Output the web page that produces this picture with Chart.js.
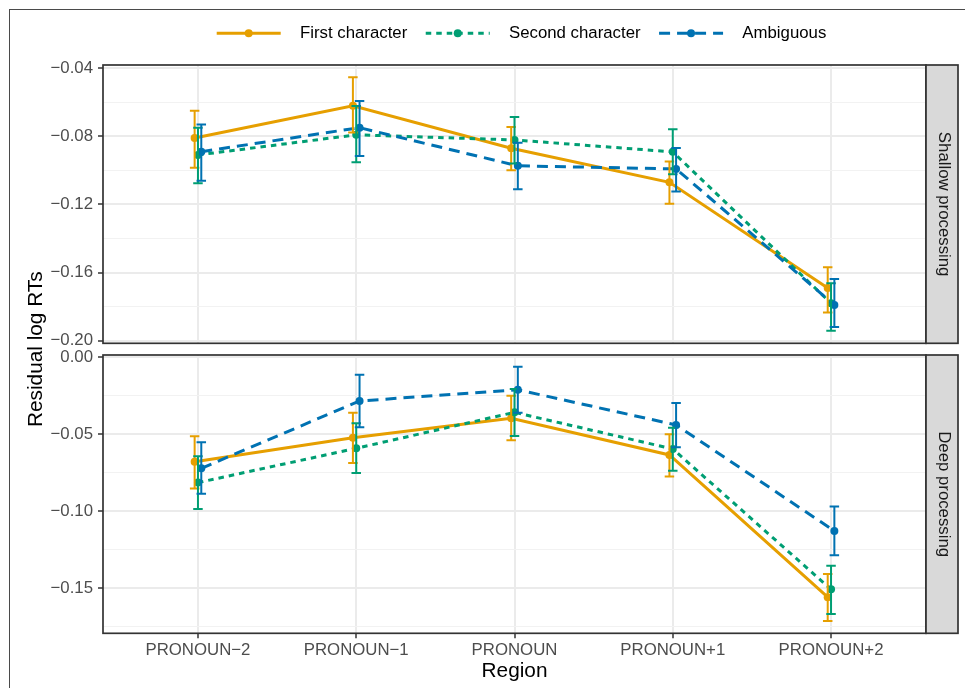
<!DOCTYPE html>
<html><head><meta charset="utf-8">
<script src="https://cdn.jsdelivr.net/npm/chart.js@4/dist/chart.umd.min.js"></script>
<style>
html,body{margin:0;padding:0;background:#fff;}
#wrap{position:relative;width:965px;height:688px;overflow:hidden;background:#fff;}
#frame{position:absolute;left:9px;top:9px;width:2000px;height:2000px;border-left:1px solid #4a4a4a;border-top:1px solid #4a4a4a;}
canvas{position:absolute;left:0;top:0;}
</style></head><body>
<div id="wrap"><div id="frame"></div>
<canvas id="c1" width="965" height="688"></canvas>
<canvas id="c2" width="965" height="688"></canvas>
</div>
<script>
// ---------- data ----------
const categories = ['PRONOUN\u22122', 'PRONOUN\u22121', 'PRONOUN', 'PRONOUN+1', 'PRONOUN+2'];
const series = ['First character', 'Second character', 'Ambiguous'];
const panels = ['Shallow processing', 'Deep processing'];
const yTicksShallow = [-0.04, -0.08, -0.12, -0.16, -0.20];
const yTicksDeep = [0.00, -0.05, -0.10, -0.15];

// Shallow processing
const firstShallow      = [-0.081, -0.062, -0.087, -0.107, -0.169];
const firstShallowLo    = [-0.0985, -0.0778, -0.0999, -0.1196, -0.1834];
const firstShallowHi    = [-0.065, -0.0453, -0.0745, -0.0948, -0.1568];
const secondShallow     = [-0.0909, -0.0791, -0.0821, -0.0891, -0.178];
const secondShallowLo   = [-0.1075, -0.0952, -0.0960, -0.1022, -0.1942];
const secondShallowHi   = [-0.075, -0.0621, -0.0686, -0.0758, -0.1662];
const ambigShallow      = [-0.089, -0.0749, -0.0973, -0.0991, -0.179];
const ambigShallowLo    = [-0.1061, -0.0915, -0.1110, -0.1124, -0.1920];
const ambigShallowHi    = [-0.0731, -0.0592, -0.0837, -0.0868, -0.1637];

// Deep processing
const firstDeep     = [-0.0679, -0.0523, -0.0397, -0.0635, -0.156];
const firstDeepLo   = [-0.0854, -0.0687, -0.0540, -0.0776, -0.1715];
const firstDeepHi   = [-0.0514, -0.0360, -0.0250, -0.0501, -0.1409];
const secondDeep    = [-0.0815, -0.0592, -0.0358, -0.0596, -0.1509];
const secondDeepLo  = [-0.0986, -0.0752, -0.0512, -0.0737, -0.1669];
const secondDeepHi  = [-0.0644, -0.0429, -0.0206, -0.0458, -0.1355];
const ambigDeep     = [-0.0722, -0.0284, -0.0211, -0.0440, -0.1129];
const ambigDeepLo   = [-0.0887, -0.0455, -0.0360, -0.0585, -0.1287];
const ambigDeepHi   = [-0.0553, -0.0113, -0.0061, -0.0297, -0.0971];

// ---------- styling ----------
const FONT = '"Liberation Sans", Arial, Helvetica, sans-serif';
Chart.defaults.font.family = FONT;
const colors = ['#E69F00', '#009E73', '#0072B2'];
const dashes = [[], [5.5, 5], [11, 7]];
const dodge = [-0.021, 0, 0.021];
const capHalf = 0.03;
const SMALL = 16.8, BIG = 20.8;

const panelData = [
  { vals: [firstShallow, secondShallow, ambigShallow],
    lo: [firstShallowLo, secondShallowLo, ambigShallowLo],
    hi: [firstShallowHi, secondShallowHi, ambigShallowHi],
    ticks: yTicksShallow, min: -0.2015, max: -0.0381 },
  { vals: [firstDeep, secondDeep, ambigDeep],
    lo: [firstDeepLo, secondDeepLo, ambigDeepLo],
    hi: [firstDeepHi, secondDeepHi, ambigDeepHi],
    ticks: yTicksDeep, min: -0.1795, max: 0.0015 }
];

function fmt(v) {
  const a = Math.abs(v).toFixed(2);
  return (v < -1e-9 ? '\u2212' : '') + a;
}

const errorBars = {
  id: 'errorBars',
  afterDatasetsDraw(chart, args, opts) {
    const { ctx } = chart; const xs = chart.scales.x, ys = chart.scales.y;
    const pd = panelData[opts.panel];
    ctx.save();
    series.forEach((name, s) => {
      ctx.strokeStyle = colors[s]; ctx.lineWidth = 2; ctx.setLineDash([]); ctx.lineCap = 'butt';
      pd.lo[s].forEach((lo, i) => {
        const xc = xs.getPixelForValue(i + dodge[s]);
        const hw = xs.getPixelForValue(i + dodge[s] + capHalf) - xc;
        const yl = ys.getPixelForValue(lo), yh = ys.getPixelForValue(pd.hi[s][i]);
        ctx.beginPath();
        ctx.moveTo(xc, yl); ctx.lineTo(xc, yh);
        ctx.moveTo(xc - hw, yl); ctx.lineTo(xc + hw, yl);
        ctx.moveTo(xc - hw, yh); ctx.lineTo(xc + hw, yh);
        ctx.stroke();
      });
    });
    ctx.restore();
  }
};

const panelDecor = {
  id: 'panelDecor',
  afterDraw(chart, args, opts) {
    const { ctx } = chart; const { left, top, right, bottom } = chart.chartArea;
    ctx.save();
    ctx.setLineDash([]);
    ctx.lineWidth = 1.7; ctx.strokeStyle = '#333333';
    ctx.strokeRect(left, top, right - left, bottom - top);
    const sw = 32;
    ctx.fillStyle = '#D9D9D9';
    ctx.fillRect(right, top, sw, bottom - top);
    ctx.strokeRect(right, top, sw, bottom - top);
    ctx.translate(right + sw / 2 + 1.5, (top + bottom) / 2);
    ctx.rotate(Math.PI / 2);
    ctx.fillStyle = '#1A1A1A'; ctx.font = SMALL + 'px ' + FONT;
    ctx.textAlign = 'center'; ctx.textBaseline = 'middle';
    ctx.fillText(panels[opts.panel], 0, 0);
    ctx.restore();

    if (opts.panel === 0) {
      // legend
      ctx.save();
      let x = 216.7; const yc = 33.3;
      ctx.font = SMALL + 'px ' + FONT;
      series.forEach((name, s) => {
        ctx.strokeStyle = colors[s]; ctx.fillStyle = colors[s];
        ctx.lineWidth = 3; ctx.setLineDash(dashes[s]);
        ctx.beginPath(); ctx.moveTo(x, yc); ctx.lineTo(x + 64, yc); ctx.stroke();
        ctx.setLineDash([]);
        ctx.beginPath(); ctx.arc(x + 32, yc, 4, 0, Math.PI * 2); ctx.fill();
        ctx.fillStyle = '#000'; ctx.textAlign = 'left'; ctx.textBaseline = 'middle';
        ctx.fillText(name, x + 83.3, yc);
        x += 83.3 + ctx.measureText(name).width + 18.5;
      });
      ctx.restore();
    } else {
      // shared y title
      ctx.save();
      ctx.translate(41.7, 349.2);
      ctx.rotate(-Math.PI / 2);
      ctx.fillStyle = '#000'; ctx.font = BIG + 'px ' + FONT;
      ctx.textAlign = 'center'; ctx.textBaseline = 'alphabetic';
      ctx.fillText('Residual log RTs', 0, 0);
      ctx.restore();
    }
  }
};

function makePanel(id, p) {
  const pd = panelData[p];
  const isBottom = p === 1;
  const majors = pd.ticks;
  const step = Math.abs(majors[1] - majors[0]);
  const minors = [];
  majors.forEach(m => {
    [m - step / 2, m + step / 2].forEach(v => {
      if (v > pd.min && v < pd.max && !minors.some(u => Math.abs(u - v) < 1e-9)) minors.push(v);
    });
  });
  const isMajor = v => majors.some(m => Math.abs(m - v) < 1e-9);
  const allTicks = majors.concat(minors.filter(v => !isMajor(v)));

  return new Chart(document.getElementById(id), {
    type: 'line',
    data: {
      datasets: series.map((name, s) => ({
        label: name,
        data: pd.vals[s].map((v, i) => ({ x: i + dodge[s], y: v })),
        borderColor: colors[s], backgroundColor: colors[s],
        borderWidth: 3, borderDash: dashes[s],
        pointRadius: 4, pointBorderWidth: 0, pointHoverRadius: 4,
        tension: 0, fill: false, order: 3 - s
      }))
    },
    options: {
      responsive: false, animation: false, events: [],
      layout: { padding: isBottom ? { left: 0, top: 355, right: 39, bottom: 0 }
                                  : { left: 0, top: 65, right: 39, bottom: 344.7 } },
      plugins: { legend: { display: false }, tooltip: { enabled: false },
                 errorBars: { panel: p }, panelDecor: { panel: p } },
      scales: {
        x: {
          type: 'linear', min: -0.6, max: 4.6,
          afterBuildTicks: ax => { ax.ticks = categories.map((c, i) => ({ value: i })); },
          afterFit: ax => { ax.height = isBottom ? 54.7 : 0; },
          ticks: { display: isBottom, autoSkip: false, maxRotation: 0,
                   callback: v => categories[v], font: { size: SMALL }, color: '#4D4D4D', padding: 1.5 },
          grid: { color: '#EBEBEB', lineWidth: 2, drawTicks: isBottom, tickLength: 5,
                  tickColor: '#333333', tickWidth: 1.5 },
          border: { display: false },
          title: { display: isBottom, text: 'Region', color: '#000', font: { size: BIG },
                   padding: { top: 0, bottom: 4.7 } }
        },
        y: {
          type: 'linear', min: pd.min, max: pd.max,
          afterBuildTicks: ax => { ax.ticks = allTicks.map(v => ({ value: v })); },
          afterFit: ax => { ax.width = 103; },
          ticks: { autoSkip: false, callback: v => isMajor(v) ? fmt(v) : '',
                   font: { size: SMALL }, color: '#4D4D4D', padding: 5 },
          grid: {
            color: c => (c.tick && isMajor(c.tick.value)) ? '#EBEBEB' : '#F2F2F2',
            lineWidth: c => (c.tick && isMajor(c.tick.value)) ? 2 : 1,
            tickLength: 5,
            tickColor: c => (c.tick && isMajor(c.tick.value)) ? '#333333' : 'rgba(0,0,0,0)',
            tickWidth: 1.5
          },
          border: { display: false }
        }
      }
    },
    plugins: [errorBars, panelDecor]
  });
}

makePanel('c1', 0);
makePanel('c2', 1);
</script>
</body></html>
